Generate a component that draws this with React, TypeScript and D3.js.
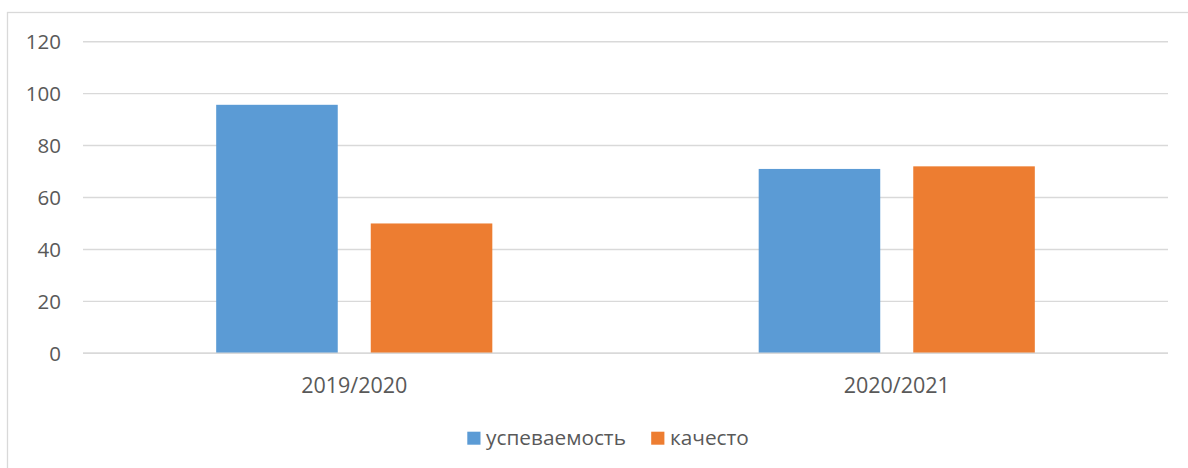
import React from "react";
import * as d3 from "d3";

const categories = ["2019/2020", "2020/2021"];
const seriesNames = ["успеваемость", "качесто"];
const uspevaemost = [95.7, 71];
const kachestvo = [50, 72];
const yTicks = [0, 20, 40, 60, 80, 100, 120];
const colors = ["#5B9BD5", "#ED7D31"];

const W = 1188;
const H = 468;
const plot = { left: 83, right: 1168, top: 41.7, bottom: 353.3 };
const FONT = "'Open Sans', Lato, sans-serif";
const TEXT = "#595959";

export default function App() {
  const x = d3
    .scaleBand<string>()
    .domain(categories)
    .range([plot.left, plot.right])
    .paddingInner(0.491)
    .paddingOuter(0.2455);
  const xs = d3
    .scaleBand<string>()
    .domain(seriesNames)
    .range([0, x.bandwidth()])
    .paddingInner(0.2136)
    .paddingOuter(0);
  const y = d3.scaleLinear().domain([0, 120]).range([plot.bottom, plot.top]);
  const series = [uspevaemost, kachestvo];

  return (
    <svg
      width={W}
      height={H}
      style={{ position: "fixed", left: 0, top: 0, background: "#fff" }}
      fontFamily={FONT}
    >
      <rect x={7.5} y={12.5} width={W} height={H} fill="#fff" stroke="#d9d9d9" strokeWidth={1.3} />
      {yTicks.map((t) => (
        <g key={t}>
          <line x1={plot.left} x2={plot.right} y1={y(t)} y2={y(t)} stroke="#d9d9d9" strokeWidth={1.4} />
          <text x={61} y={y(t)} dy="0.36em" textAnchor="end" fontSize={20.5} fill={TEXT}>
            {t}
          </text>
        </g>
      ))}
      {categories.map((c, ci) =>
        series.map((s, si) => (
          <rect
            key={c + si}
            x={(x(c) as number) + (xs(seriesNames[si]) as number)}
            y={y(s[ci])}
            width={xs.bandwidth()}
            height={y(0) - y(s[ci])}
            fill={colors[si]}
          />
        ))
      )}
      <line x1={plot.left} x2={plot.right} y1={y(0)} y2={y(0)} stroke="#d9d9d9" strokeWidth={1.4} />
      {categories.map((c) => (
        <text
          key={c}
          x={(x(c) as number) + x.bandwidth() / 2}
          y={392.5}
          textAnchor="middle"
          fontSize={21.5}
          fill={TEXT}
        >
          {c}
        </text>
      ))}
      <g>
        <rect x={467.3} y={431.7} width={13.2} height={13} fill={colors[0]} />
        <text x={486} y={445} fontSize={20.8} fill={TEXT}>
          {seriesNames[0]}
        </text>
        <rect x={651.2} y={431.7} width={13.2} height={13} fill={colors[1]} />
        <text x={670} y={445} fontSize={20.8} fill={TEXT}>
          {seriesNames[1]}
        </text>
      </g>
    </svg>
  );
}
